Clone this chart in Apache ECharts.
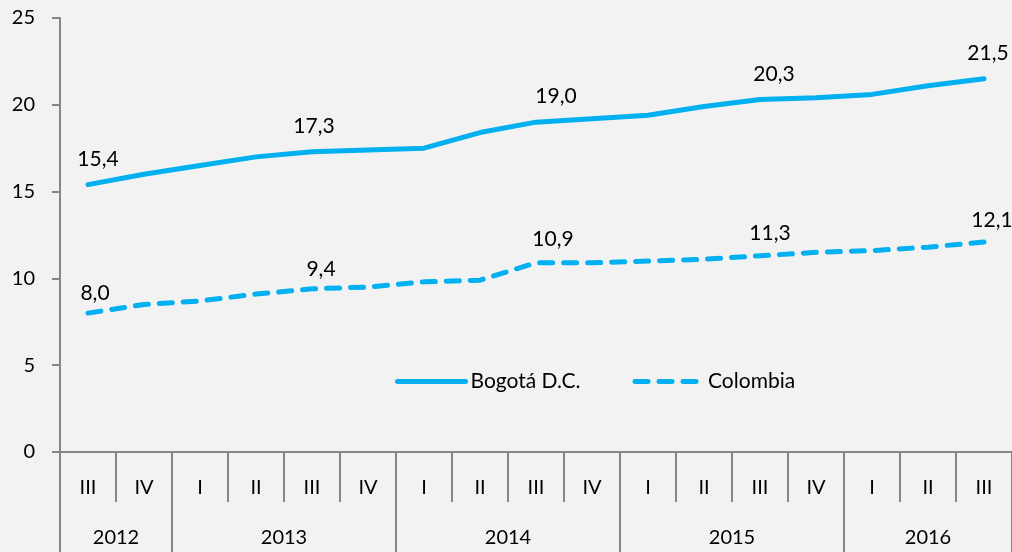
<!DOCTYPE html>
<html>
    <head>
        <meta http-equiv="Content-Type" content="text/html; charset=utf-8" />
        <title>Bogota vs Colombia</title>
        <script type="text/javascript" src="https://cdn.jsdelivr.net/npm/echarts@6/dist/echarts.min.js"></script>
        <style>
            html, body { margin: 0; padding: 0; background: #F2F2F2; }
        </style>
    </head>
    <body>
        <div style="width:1012px;height:552px;" id="chart"></div>
        <script type="text/javascript">
            // trimestres y años
            var quarters = ['III','IV','I','II','III','IV','I','II','III','IV','I','II','III','IV','I','II','III'];
            var years = ['2012','2013','2014','2015','2016'];
            var yearSizes = [2, 4, 4, 4, 3]; // trimestres por año

            var bogota   = [15.4, 16.0, 16.5, 17.0, 17.3, 17.4, 17.5, 18.4, 19.0, 19.2, 19.4, 19.9, 20.3, 20.4, 20.6, 21.1, 21.5];
            var colombia = [8.0, 8.5, 8.7, 9.1, 9.4, 9.5, 9.8, 9.9, 10.9, 10.9, 11.0, 11.1, 11.3, 11.5, 11.6, 11.8, 12.1];

            var labelIdx = [0, 4, 8, 12, 16]; // puntos con etiqueta

            var blue = '#00B0F0';
            var axisGray = '#868686';
            var font = 'Lato, "Open Sans", sans-serif';

            // eje de años: medias posiciones (2 por trimestre), boundaryGap false
            var half = [];
            for (var i = 0; i <= quarters.length * 2; i++) half.push('');
            var sepIdx = [0];
            var acc = 0;
            years.forEach(function (y, k) {
                half[acc + yearSizes[k]] = y; // centro del grupo (en medias)
                acc += yearSizes[k] * 2;
                sepIdx.push(acc);
            });

            function withLabels(values, offsets) {
                return values.map(function (v, i) {
                    var p = labelIdx.indexOf(i);
                    if (p < 0) return v;
                    return {
                        value: v,
                        label: { show: true, offset: offsets[p] }
                    };
                });
            }

            function fmt(p) { return p.value.toFixed(1).replace('.', ','); }

            var myChart = echarts.init(document.getElementById('chart'));
            var option = {
                backgroundColor: '#F2F2F2',
                animation: false,
                textStyle: { fontFamily: font },
                grid: { left: 60, right: 0, top: 18, bottom: 100, containLabel: false },
                legend: {
                    left: 390,
                    top: 366,
                    itemWidth: 68,
                    itemHeight: 14,
                    itemGap: 52,
                    itemStyle: { opacity: 0 },
                    lineStyle: { width: 5 },
                    textStyle: { fontSize: 21, color: '#000', fontFamily: font },
                    data: ['Bogotá D.C.', 'Colombia']
                },
                xAxis: [
                    {
                        type: 'category',
                        data: quarters,
                        boundaryGap: true,
                        axisLine: { lineStyle: { color: axisGray, width: 2 } },
                        axisTick: { show: true, interval: 0, length: 50, lineStyle: { color: axisGray, width: 2 } },
                        axisLabel: { interval: 0, margin: 26, fontSize: 20, color: '#000', fontFamily: font }
                    },
                    {
                        type: 'category',
                        data: half,
                        boundaryGap: false,
                        position: 'bottom',
                        offset: 0,
                        axisLine: { show: false },
                        axisTick: {
                            show: true,
                            length: 100,
                            interval: function (idx) { return sepIdx.indexOf(idx) >= 0; },
                            lineStyle: { color: axisGray, width: 2 }
                        },
                        axisLabel: {
                            margin: 76,
                            fontSize: 20,
                            color: '#000',
                            fontFamily: font,
                            interval: function (idx, val) { return val !== ''; }
                        }
                    }
                ],
                yAxis: {
                    type: 'value',
                    min: 0,
                    max: 25,
                    interval: 5,
                    splitLine: { show: false },
                    axisLine: { show: true, lineStyle: { color: axisGray, width: 2 } },
                    axisTick: { show: true, length: 8, lineStyle: { color: axisGray, width: 2 } },
                    axisLabel: { margin: 25, fontSize: 20, color: '#000', fontFamily: font }
                },
                series: [
                    {
                        name: 'Bogotá D.C.',
                        type: 'line',
                        xAxisIndex: 0,
                        symbol: 'circle',
                        symbolSize: 0,
                        showSymbol: true,
                        itemStyle: { color: blue },
                        color: blue,
                        lineStyle: { color: blue, width: 5, cap: 'round' },
                        label: {
                            show: false, position: 'top', distance: 15,
                            fontSize: 21, color: '#000', fontFamily: font,
                            formatter: fmt
                        },
                        data: withLabels(bogota, [[10, 0], [2, 0], [20, 0], [14, 0], [4, 0]])
                    },
                    {
                        name: 'Colombia',
                        type: 'line',
                        xAxisIndex: 0,
                        symbol: 'circle',
                        symbolSize: 0,
                        showSymbol: true,
                        itemStyle: { color: blue },
                        color: blue,
                        lineStyle: { color: blue, width: 5, type: [13, 11], cap: 'round' },
                        label: {
                            show: false, position: 'top', distance: 9,
                            fontSize: 21, color: '#000', fontFamily: font,
                            formatter: fmt
                        },
                        data: withLabels(colombia, [[7, 0], [9, 0], [17, -4], [10, -3], [8, -2]])
                    }
                ]
            };
            myChart.setOption(option);
        </script>
    </body>
</html>
